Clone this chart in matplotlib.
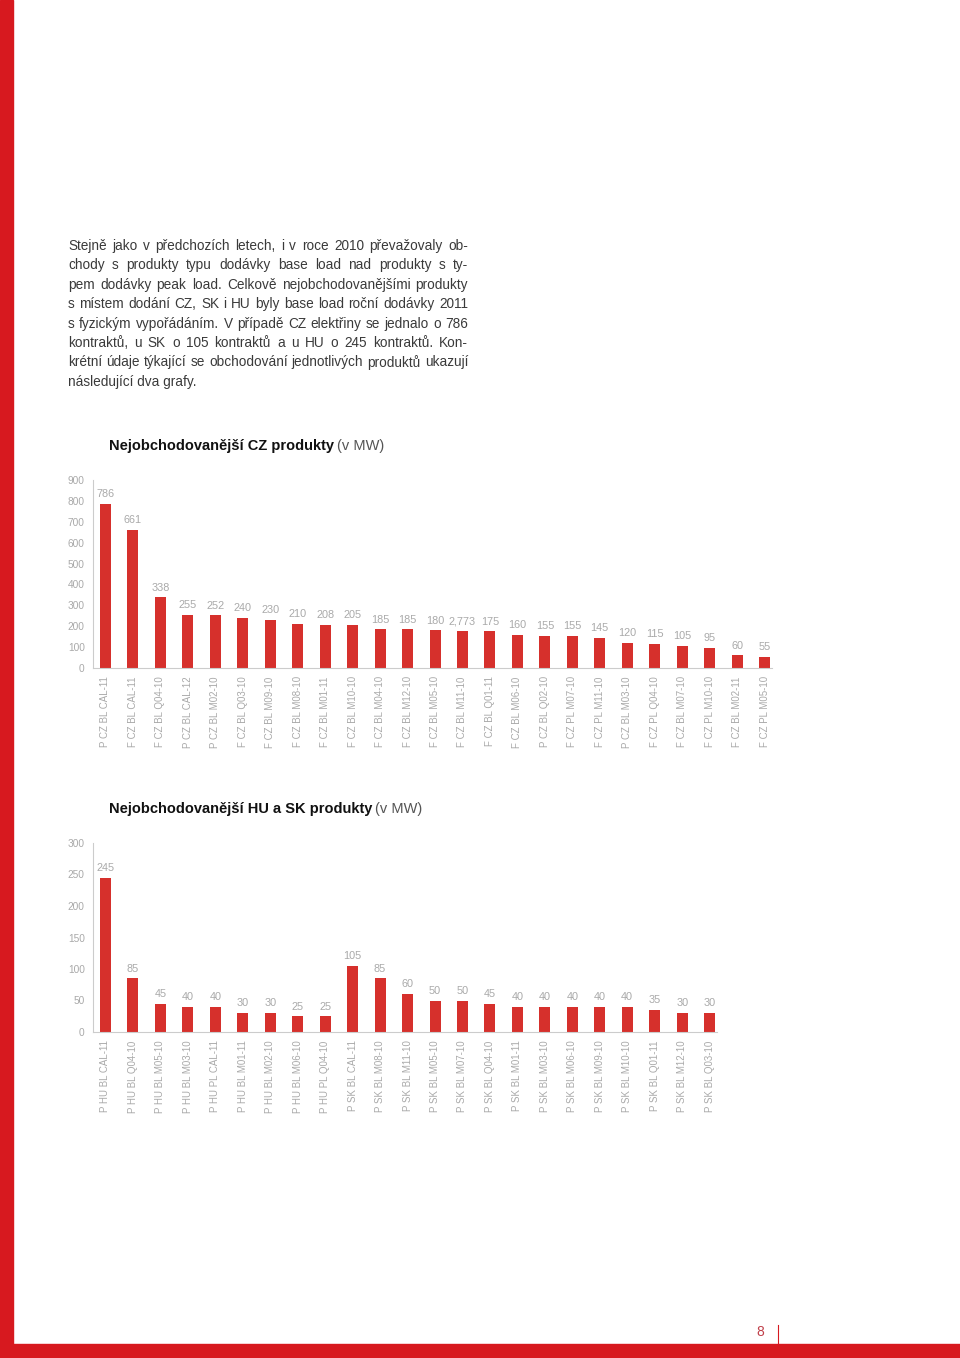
import matplotlib.pyplot as plt
from matplotlib.patches import Rectangle
from matplotlib.lines import Line2D

plt.rcParams['font.family'] = ['Liberation Sans', 'DejaVu Sans']

# --- data ---
paragraph = [
    "Stejně jako v předchozích letech, i v roce 2010 převažovaly ob-",
    "chody s produkty typu dodávky base load nad produkty s ty-",
    "pem dodávky peak load. Celkově nejobchodovanějšími produkty",
    "s místem dodání CZ, SK i HU byly base load roční dodávky 2011",
    "s fyzickým vypořádáním. V případě CZ elektřiny se jednalo o 786",
    "kontraktů, u SK o 105 kontraktů a u HU o 245 kontraktů. Kon-",
    "krétní údaje týkající se obchodování jednotlivých produktů ukazují",
    "následující dva grafy.",
]

cz_products = ["P CZ BL CAL-11", "F CZ BL CAL-11", "F CZ BL Q04-10", "P CZ BL CAL-12",
               "P CZ BL M02-10", "F CZ BL Q03-10", "F CZ BL M09-10", "F CZ BL M08-10",
               "F CZ BL M01-11", "F CZ BL M10-10", "F CZ BL M04-10", "F CZ BL M12-10",
               "F CZ BL M05-10", "F CZ BL M11-10", "F CZ BL Q01-11", "F CZ BL M06-10",
               "P CZ BL Q02-10", "F CZ PL M07-10", "F CZ PL M11-10", "P CZ BL M03-10",
               "F CZ PL Q04-10", "F CZ BL M07-10", "F CZ PL M10-10", "F CZ BL M02-11",
               "F CZ PL M05-10"]
cz_values = [786, 661, 338, 255, 252, 240, 230, 210, 208, 205, 185, 185, 180, 177,
             175, 160, 155, 155, 145, 120, 115, 105, 95, 60, 55]
cz_labels = ["786", "661", "338", "255", "252", "240", "230", "210", "208", "205",
             "185", "185", "180", "2,773", "175", "160", "155", "155", "145", "120",
             "115", "105", "95", "60", "55"]
cz_yticks = [0, 100, 200, 300, 400, 500, 600, 700, 800, 900]

husk_products = ["P HU BL CAL-11", "P HU BL Q04-10", "P HU BL M05-10", "P HU BL M03-10",
                 "P HU PL CAL-11", "P HU BL M01-11", "P HU BL M02-10", "P HU BL M06-10",
                 "P HU PL Q04-10", "P SK BL CAL-11", "P SK BL M08-10", "P SK BL M11-10",
                 "P SK BL M05-10", "P SK BL M07-10", "P SK BL Q04-10", "P SK BL M01-11",
                 "P SK BL M03-10", "P SK BL M06-10", "P SK BL M09-10", "P SK BL M10-10",
                 "P SK BL Q01-11", "P SK BL M12-10", "P SK BL Q03-10"]
husk_values = [245, 85, 45, 40, 40, 30, 30, 25, 25, 105, 85, 60, 50, 50, 45,
               40, 40, 40, 40, 40, 35, 30, 30]
husk_yticks = [0, 50, 100, 150, 200, 250, 300]

RED = '#d7191f'
BAR = '#d6302c'
GREY = '#a9a9a9'
TEXT = '#3a3a3a'

W, H = 960, 1358
fig = plt.figure(figsize=(W / 100, H / 100), dpi=100)


def fx(px):
    return px / W


def fy(py):
    return 1 - py / H


# page frame
fig.patches.append(Rectangle((0, 0), fx(13), 1, transform=fig.transFigure,
                             color=RED, zorder=0))
fig.patches.append(Rectangle((0, 0), 1, 14 / H, transform=fig.transFigure,
                             color=RED, zorder=0))
fig.lines.append(Line2D([fx(778), fx(778)], [0, fy(1325)], transform=fig.transFigure,
                        color=RED, lw=0.8))
fig.text(fx(760), fy(1332), "8", color='#c0404a', fontsize=10,
         ha='center', va='center')

# paragraph, justified between x=68 and x=468
renderer = fig.canvas.get_renderer()
left, right = 68, 468
fs = 9.8
for i, line in enumerate(paragraph):
    y = fy(246 + i * 19.4)
    words = line.split(' ')
    if i == len(paragraph) - 1:
        fig.text(fx(left), y, line, fontsize=fs, color=TEXT, va='center')
        continue
    objs = [fig.text(0, y, w, fontsize=fs, color=TEXT, va='center') for w in words]
    widths = [o.get_window_extent(renderer).width for o in objs]
    gap = (right - left - sum(widths)) / (len(words) - 1)
    x = left
    for o, w in zip(objs, widths):
        o.set_x(fx(x))
        x += w + gap


def bar_chart(top_px, bottom_px, names, values, labels, yticks, title_bold, title_x, title_y):
    n = len(values)
    step = 27.46
    x0 = 105.5
    ax_left = 93
    ax_right = x0 + (n - 1) * step + 7
    ax = fig.add_axes([fx(ax_left), fy(bottom_px), (ax_right - ax_left) / W,
                       (bottom_px - top_px) / H])
    ax.bar(range(n), values, width=0.4, color=BAR, zorder=2)
    ax.set_xlim(-(x0 - ax_left) / step, n - 1 + 7 / step)
    ax.set_ylim(0, yticks[-1])
    ax.set_yticks(yticks)
    ax.set_yticklabels([str(t) for t in yticks], fontsize=7.3, color=GREY)
    ax.set_xticks(range(n))
    ax.set_xticklabels(names, rotation=90, fontsize=7, color=GREY, va='top')
    ax.tick_params(length=0, pad=6)
    for s in ['top', 'right']:
        ax.spines[s].set_visible(False)
    for s in ['left', 'bottom']:
        ax.spines[s].set_color('#cccccc')
        ax.spines[s].set_linewidth(0.8)
    span = yticks[-1]
    for i, (v, lab) in enumerate(zip(values, labels)):
        ax.text(i, v + span * 0.025, lab, ha='center', va='bottom', fontsize=7.8,
                color=GREY)
    ax.set_facecolor('none')
    t = fig.text(fx(title_x), fy(title_y), title_bold, fontsize=10.5, fontweight='bold',
                 color='#111111', va='center')
    w = t.get_window_extent(renderer).width
    fig.text(fx(title_x + w + 3), fy(title_y), "(v MW)", fontsize=10.5, color='#555555',
             va='center')
    return ax


bar_chart(480, 668, cz_products, cz_values, cz_labels, cz_yticks,
          "Nejobchodovanější CZ produkty", 109, 446)
bar_chart(843, 1032, husk_products, husk_values, [str(v) for v in husk_values],
          husk_yticks, "Nejobchodovanější HU a SK produkty", 109, 809)

fig.savefig('out.png', dpi=100)
